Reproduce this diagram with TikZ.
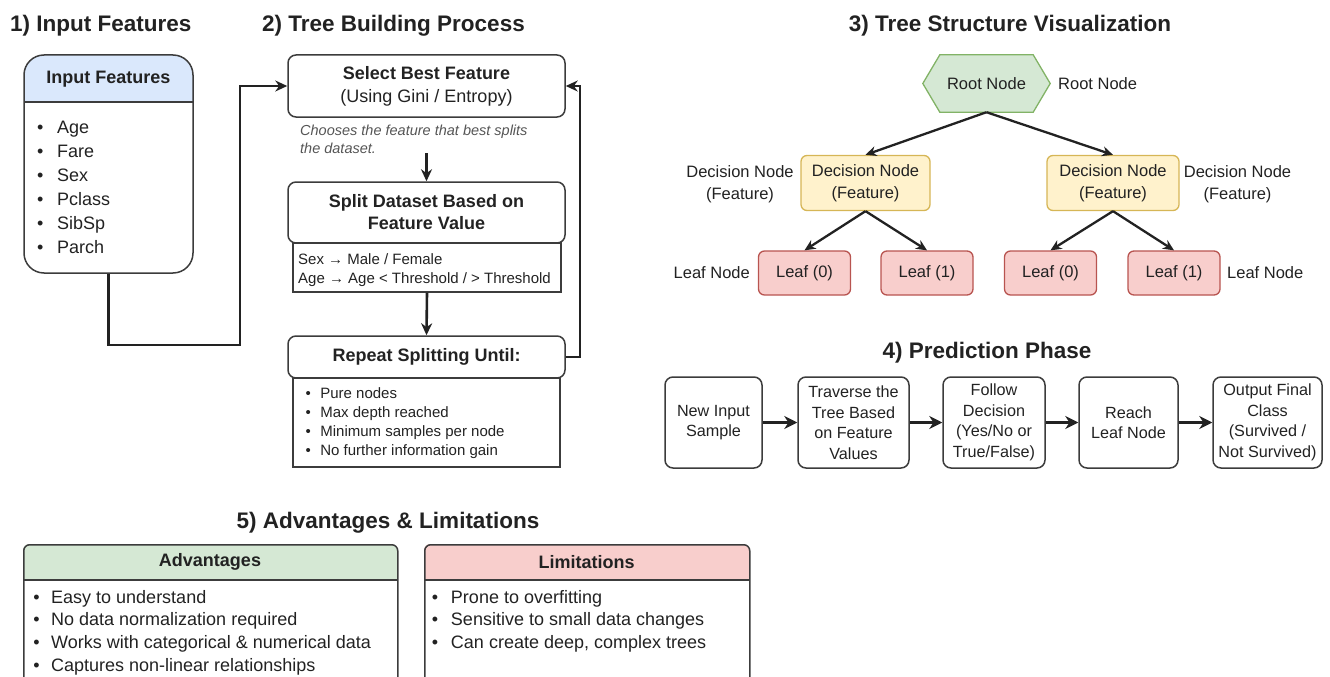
\documentclass[tikz,border=0pt]{standalone}
\usepackage{fontspec}
\setmainfont{Liberation Sans}
\usetikzlibrary{arrows.meta,backgrounds}

\definecolor{ink}{HTML}{222222}
\definecolor{edge}{HTML}{3C3C3C}
\definecolor{notegray}{HTML}{555555}
\definecolor{bluefill}{HTML}{DAE8FC}
\definecolor{greenfill}{HTML}{D5E8D4}
\definecolor{greenline}{HTML}{82B366}
\definecolor{yellowfill}{HTML}{FFF2CC}
\definecolor{yellowline}{HTML}{D6B656}
\definecolor{redfill}{HTML}{F8CECC}
\definecolor{redline}{HTML}{B85450}

\newcommand{\fs}[2]{\fontsize{#1}{#2}\selectfont}

\tikzset{
  title/.style={anchor=base, font=\fs{22.5}{27}\bfseries, text=ink, inner sep=0pt},
  stepbox/.style={draw=edge, line width=1.5pt, rounded corners=8pt, align=center,
                  text=ink, inner sep=0pt, minimum width=277pt},
  infobox/.style={draw=edge, line width=1.4pt, inner sep=0pt},
  small/.style={anchor=base west, font=\fs{15}{19}, text=ink, inner sep=0pt},
  item/.style={anchor=base west, font=\fs{18}{22}, text=ink, inner sep=0pt},
  flow/.style={draw=ink, line width=2.6pt, -{Stealth[length=12pt,width=11pt]}},
  treearrow/.style={draw=ink, line width=2.3pt, -{Stealth[length=11pt,width=10pt]}},
  bigarrow/.style={draw=ink, line width=3.8pt, -{Stealth[length=13pt,width=13pt]}},
  treebox/.style={line width=1.3pt, rounded corners=6pt, align=center, text=ink,
                  inner sep=0pt, font=\fs{16.5}{22}},
  decision/.style={treebox, draw=yellowline, fill=yellowfill, minimum height=55pt},
  leaf/.style={treebox, draw=redline, fill=redfill, minimum width=92pt, minimum height=44pt},
  treelabel/.style={align=center, text=ink, inner sep=0pt, font=\fs{16.5}{22}},
  pbox/.style={draw=edge, line width=1.5pt, rounded corners=8pt, align=center, text=ink,
               inner sep=0pt, minimum height=91pt, font=\fs{16.2}{20.5}},
  headtext/.style={font=\fs{18}{22}\bfseries, text=ink, inner sep=0pt},
}

\begin{document}
\begin{tikzpicture}[x=1pt, y=-1pt]
\useasboundingbox (0,0) rectangle (1330,677);
\clip (0,0) rectangle (1330,677);

% ---------- section titles ----------
\node[title, anchor=base west] (t1) at (10,32) {1) Input Features};
\node[title, anchor=base west] (t2) at (262,32) {2) Tree Building Process};
\node[title] (t3) at (1010,32) {3) Tree Structure Visualization};
\node[title] (t4) at (987,358) {4) Prediction Phase};
\node[title] (t5) at (388,528) {5) Advantages \& Limitations};

% ---------- 1) input features card ----------
\begin{scope}
  \clip (24,55) rectangle (193,102);
  \fill[bluefill, rounded corners=20pt] (24,55) rectangle (193,273);
\end{scope}
\node[draw=edge, line width=1.5pt, rounded corners=20pt, minimum width=169pt,
      minimum height=218pt, inner sep=0pt] (infeat) at (108.5,164) {};
\draw[edge, line width=1.4pt] (24,102) -- (193,102);
\node[headtext] (infeathead) at (108.5,79) {Input Features};
\foreach \t [count=\i] in {Age,Fare,Sex,Pclass,SibSp,Parch}
  \node[item] (feat\i) at (37,{133+24*(\i-1)}) {\textbullet\hspace{13.7pt}\t};

% ---------- 2) tree building process ----------
\node[stepbox, minimum height=62pt, font=\fs{18}{23}] (select) at (426.5,86)
  {\textbf{Select Best Feature}\\(Using Gini / Entropy)};
\node[anchor=base west, inner sep=0pt, font=\fs{14.5}{18}\itshape, text=notegray]
  (note1) at (300,135) {Chooses the feature that best splits};
\node[anchor=base west, inner sep=0pt, font=\fs{14.5}{18}\itshape, text=notegray]
  (note2) at (300,153) {the dataset.};

\node[stepbox, minimum height=61pt, font=\fs{18}{22}\bfseries] (split) at (426.5,212.5)
  {Split Dataset Based on\\Feature Value};
\node[infobox, minimum width=268pt, minimum height=49pt] (splitinfo) at (427,267.5) {};
\node[small] (si1) at (298,264.5) {Sex → Male / Female};
\node[small] (si2) at (298,283.5) {Age → Age < Threshold / > Threshold};

\node[stepbox, minimum height=42pt, font=\fs{18}{22}\bfseries] (repeat) at (426.5,357)
  {Repeat Splitting Until:};
\node[infobox, minimum width=267pt, minimum height=89pt] (repinfo) at (426.5,422.5) {};
\foreach \t [count=\i] in {Pure nodes,Max depth reached,Minimum samples per node,No further information gain}
  \node[small] (rep\i) at (305.5,{398+19.3*(\i-1)}) {\textbullet\hspace{9.4pt}\t};

% connectors of sections 1 and 2
\coordinate (bendA) at (240,345);
\draw[flow] (infeat.south) |- (bendA) |- (select.west);
\draw[flow] (select.south |- note2.south) -- (split.north);
\draw[flow] (splitinfo.south) -- (repeat.north);
\coordinate (loopB) at (580,357);
\draw[flow] (repeat.east) -- (loopB) |- (select.east);

% ---------- 3) tree structure ----------
\node[inner sep=0pt, minimum width=127pt, minimum height=57pt, text=ink,
      font=\fs{16.5}{20}] (root) at (986.5,83.5) {Root Node};
\begin{scope}[on background layer]
  \draw[fill=greenfill, draw=greenline, line width=1.3pt]
    (root.west) -- ([xshift=17pt]root.north west) -- ([xshift=-17pt]root.north east)
    -- (root.east) -- ([xshift=-17pt]root.south east) -- ([xshift=17pt]root.south west) -- cycle;
\end{scope}
\node[treelabel, anchor=west] (rootlab) at (1058,84) {Root Node};

\node[decision, minimum width=129pt] (decL) at (865.5,183) {Decision Node\\(Feature)};
\node[decision, minimum width=132pt] (decR) at (1113,183) {Decision Node\\(Feature)};
\node[treelabel] (decLlab) at (740,184) {Decision Node\\(Feature)};
\node[treelabel] (decRlab) at (1237.5,184) {Decision Node\\(Feature)};

\node[leaf] (leafA) at (804.5,273) {Leaf (0)};
\node[leaf] (leafB) at (927,273) {Leaf (1)};
\node[leaf] (leafC) at (1050.5,273) {Leaf (0)};
\node[leaf] (leafD) at (1174,273) {Leaf (1)};
\node[treelabel, anchor=east] (leafLlab) at (750,273) {Leaf Node};
\node[treelabel, anchor=west] (leafRlab) at (1227,273) {Leaf Node};

\draw[treearrow] (root.south) -- (decL.north);
\draw[treearrow] (root.south) -- (decR.north);
\draw[treearrow] (decL.south) -- (leafA.north);
\draw[treearrow] (decL.south) -- (leafB.north);
\draw[treearrow] (decR.south) -- (leafC.north);
\draw[treearrow] (decR.south) -- (leafD.north);

% ---------- 4) prediction phase ----------
\node[pbox, minimum width=97pt]  (p1) at (713.5,422.5) {New Input\\Sample};
\node[pbox, minimum width=111pt] (p2) at (853.5,422.5) {Traverse the\\Tree Based\\on Feature\\Values};
\node[pbox, minimum width=102pt] (p3) at (994,422.5) {Follow\\Decision\\(Yes/No or\\True/False)};
\node[pbox, minimum width=99pt]  (p4) at (1128.5,422.5) {Reach\\Leaf Node};
\node[pbox, minimum width=109pt] (p5) at (1267.5,422.5) {Output Final\\Class\\(Survived /\\Not Survived)};
\draw[bigarrow] (p1.east) -- (p2.west);
\draw[bigarrow] (p2.east) -- (p3.west);
\draw[bigarrow] (p3.east) -- (p4.west);
\draw[bigarrow] (p4.east) -- (p5.west);

% ---------- 5) advantages & limitations ----------
\begin{scope}
  \clip (23,544) rectangle (397,580);
  \fill[greenfill, rounded corners=6pt] (23,544) rectangle (397,700);
\end{scope}
\node[draw=edge, line width=1.5pt, rounded corners=6pt, minimum width=374pt,
      minimum height=160pt, inner sep=0pt, anchor=north west] (adv) at (23,544) {};
\draw[edge, line width=1.4pt] (23,580) -- (397,580);
\node[headtext] (advhead) at (210,562) {Advantages};
\foreach \t [count=\i] in {Easy to understand,No data normalization required,Works with categorical \& numerical data,Captures non-linear relationships}
  \node[item] (adv\i) at (33.2,{603+22.9*(\i-1)}) {\textbullet\hspace{11.5pt}\t};

\begin{scope}
  \clip (424,544) rectangle (749,580);
  \fill[redfill, rounded corners=6pt] (424,544) rectangle (749,700);
\end{scope}
\node[draw=edge, line width=1.5pt, rounded corners=6pt, minimum width=325pt,
      minimum height=160pt, inner sep=0pt, anchor=north west] (lim) at (424,544) {};
\draw[edge, line width=1.4pt] (424,580) -- (749,580);
\node[headtext] (limhead) at (586.5,562) {Limitations};
\foreach \t [count=\i] in {Prone to overfitting,Sensitive to small data changes,{Can create deep, complex trees}}
  \node[item] (lim\i) at (431.6,{603+22.9*(\i-1)}) {\textbullet\hspace{12.9pt}\t};
\end{tikzpicture}
\end{document}
